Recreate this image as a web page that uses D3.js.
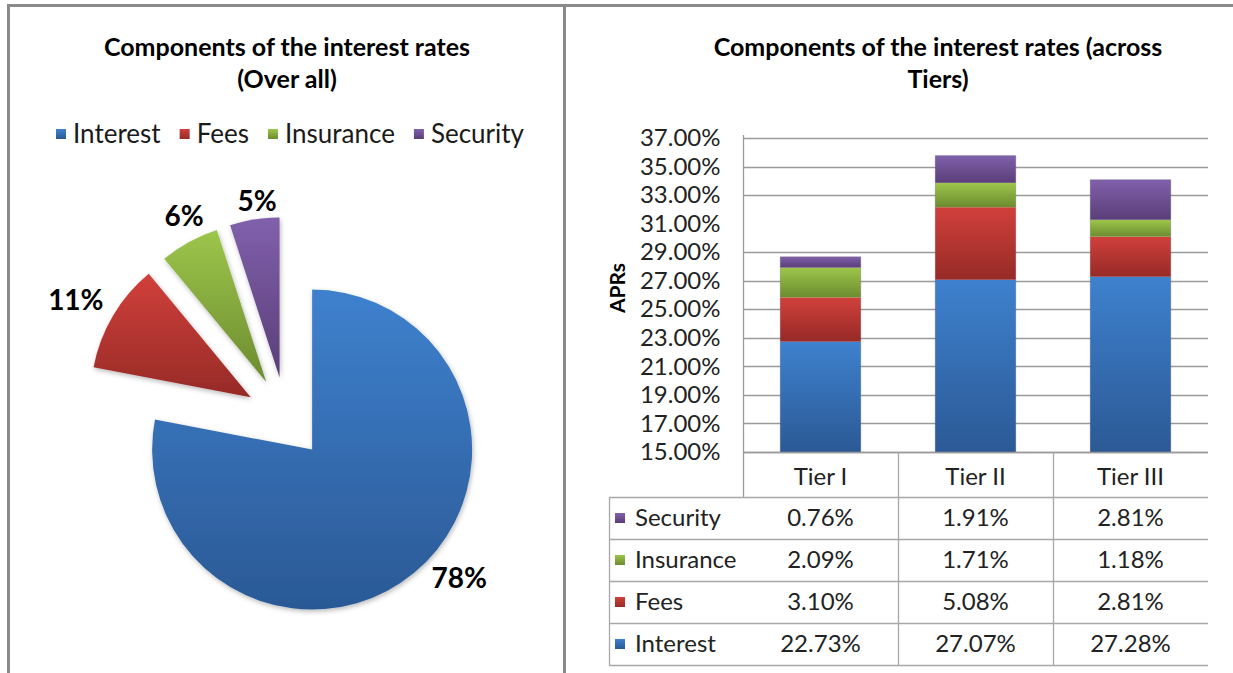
<!DOCTYPE html>
<html>
<head>
<meta charset="utf-8">
<script src="https://cdn.jsdelivr.net/npm/d3@7"></script>
<style>
  body { margin: 0; background: #fff; }
  svg { display: block; }
  text { font-family: Lato, "Open Sans", "DejaVu Sans", sans-serif; }
</style>
</head>
<body>
<svg id="chart" width="1233" height="673"></svg>
<script>
// ---- data ----
const components = ["Interest", "Fees", "Insurance", "Security"];
const overallShare = [78, 11, 6, 5];
const tiers = ["Tier I", "Tier II", "Tier III"];
const interest = [22.73, 27.07, 27.28];
const fees = [3.10, 5.08, 2.81];
const insurance = [2.09, 1.71, 1.18];
const security = [0.76, 1.91, 2.81];
const yTickValues = [15, 17, 19, 21, 23, 25, 27, 29, 31, 33, 35, 37];

// ---- styling ----
const gradientStops = {
  Interest:  ["#3e81ce", "#2b5995"],
  Fees:      ["#d1403b", "#962a27"],
  Insurance: ["#9dc64b", "#6c8b2f"],
  Security:  ["#8060ab", "#5a3e78"]
};
const textColor = "#1a1a1a";
const titleSize = 25, legendSize = 26, tickSize = 24, tableSize = 24, pieLabelSize = 28;

const svg = d3.select("#chart");
const defs = svg.append("defs");

components.forEach((c, i) => {
  const g = defs.append("linearGradient")
    .attr("id", "grad-" + i)
    .attr("x1", 0).attr("y1", 0).attr("x2", 0).attr("y2", 1);
  g.append("stop").attr("offset", "0%").attr("stop-color", gradientStops[c][0]);
  g.append("stop").attr("offset", "100%").attr("stop-color", gradientStops[c][1]);
});

const shadow = defs.append("filter").attr("id", "soft-shadow")
  .attr("x", "-20%").attr("y", "-20%").attr("width", "140%").attr("height", "140%");
shadow.append("feDropShadow")
  .attr("dx", 1).attr("dy", 2).attr("stdDeviation", 2.5)
  .attr("flood-color", "#000").attr("flood-opacity", 0.28);

// ---- panel frames ----
const frame = svg.append("g").attr("stroke", "#8a8a8a").attr("stroke-width", 3);
frame.append("line").attr("x1", 7).attr("x2", 1233).attr("y1", 5.5).attr("y2", 5.5);
frame.append("line").attr("x1", 8.5).attr("x2", 8.5).attr("y1", 4).attr("y2", 673);
frame.append("line").attr("x1", 564.5).attr("x2", 564.5).attr("y1", 4).attr("y2", 673);

// ================= Left panel: pie =================
const left = svg.append("g");
const leftCenterX = 287;

left.append("text")
  .attr("x", leftCenterX).attr("y", 56)
  .attr("text-anchor", "middle")
  .attr("font-size", titleSize).attr("font-weight", 700).attr("fill", "#000")
  .text("Components of the interest rates");
left.append("text")
  .attr("x", leftCenterX).attr("y", 88)
  .attr("text-anchor", "middle")
  .attr("font-size", titleSize).attr("font-weight", 700).attr("fill", "#000")
  .text("(Over all)");

// legend row
const legend = left.append("g").attr("transform", "translate(0,134)");
const legendItems = legend.selectAll("g.item").data(components).join("g").attr("class", "item");
legendItems.append("rect")
  .attr("width", 10).attr("height", 10).attr("y", -5)
  .attr("fill", (d, i) => `url(#grad-${i})`);
legendItems.append("text")
  .attr("x", 17).attr("y", 0).attr("dy", "0.35em")
  .attr("font-size", legendSize).attr("fill", textColor)
  .text(d => d);
{
  let x = 0;
  const gap = 19;
  const offsets = [];
  legendItems.each(function () {
    offsets.push(x);
    const w = d3.select(this).select("text").node().getComputedTextLength();
    x += 17 + w + gap;
  });
  const total = x - gap;
  const start = 290 - total / 2;
  legendItems.attr("transform", (d, i) => `translate(${start + offsets[i]},0)`);
}

// pie geometry
const pieCx = 286, pieCy = 418, pieR = 160, explode = 41;
const pieLabelPlacement = [
  { angle: 132.8, dist: 236 },
  { angle: 299.3, dist: 241 },
  { angle: 333.2, dist: 226 },
  { angle: 352.4, dist: 219 }
];

const pie = d3.pie().sort(null).value(d => d.value).startAngle(0).endAngle(2 * Math.PI);
const arcs = pie(components.map((c, i) => ({ name: c, value: overallShare[i], i })));
const arcGen = d3.arc().innerRadius(0).outerRadius(pieR);

const pieG = left.append("g").attr("transform", `translate(${pieCx},${pieCy})`);
pieG.selectAll("path.slice").data(arcs).join("path")
  .attr("class", "slice")
  .attr("d", arcGen)
  .attr("fill", d => `url(#grad-${d.data.i})`)
  .attr("filter", "url(#soft-shadow)")
  .attr("transform", d => {
    const mid = (d.startAngle + d.endAngle) / 2;
    return `translate(${explode * Math.sin(mid)},${-explode * Math.cos(mid)})`;
  });

pieG.selectAll("text.plabel").data(arcs).join("text")
  .attr("class", "plabel")
  .attr("x", d => {
    const p = pieLabelPlacement[d.data.i];
    return p.dist * Math.sin(p.angle * Math.PI / 180);
  })
  .attr("y", d => {
    const p = pieLabelPlacement[d.data.i];
    return -p.dist * Math.cos(p.angle * Math.PI / 180);
  })
  .attr("dy", "0.35em")
  .attr("text-anchor", "middle")
  .attr("font-size", pieLabelSize).attr("font-weight", 700).attr("fill", "#000")
  .text(d => d.data.value + "%");

// ================= Right panel: stacked bars + data table =================
const right = svg.append("g");
const rightCenterX = 938;

right.append("text")
  .attr("x", rightCenterX).attr("y", 56)
  .attr("text-anchor", "middle")
  .attr("font-size", titleSize).attr("font-weight", 700).attr("fill", "#000")
  .text("Components of the interest rates (across");
right.append("text")
  .attr("x", rightCenterX).attr("y", 88)
  .attr("text-anchor", "middle")
  .attr("font-size", titleSize).attr("font-weight", 700).attr("fill", "#000")
  .text("Tiers)");

const plotLeft = 743, plotRight = 1208, plotTop = 138, plotBottom = 452;
const axisMin = 15;

const y = d3.scaleLinear().domain([axisMin, 37]).range([plotBottom, plotTop]);
const x = d3.scaleBand().domain(tiers).range([plotLeft, plotRight]).paddingInner(0).paddingOuter(0);
const barWidth = x.bandwidth() * 0.52;

// gridlines (the 31% line does not render in this chart)
const gridValues = yTickValues.filter(v => v !== 31);
right.append("g").selectAll("line").data(gridValues).join("line")
  .attr("x1", plotLeft).attr("x2", plotRight)
  .attr("y1", d => Math.round(y(d)) + 0.5).attr("y2", d => Math.round(y(d)) + 0.5)
  .attr("stroke", "#9a9a9a").attr("stroke-width", 1.3);

// y axis
const yAxis = d3.axisLeft(y).tickValues(yTickValues)
  .tickFormat(d => d3.format(".2f")(d) + "%").tickSize(0).tickPadding(23);
const yAxisG = right.append("g").attr("transform", `translate(${plotLeft + 0.5},0)`).call(yAxis);
yAxisG.select(".domain").attr("stroke", "#9a9a9a").attr("stroke-width", 1.3)
  .attr("d", `M0,${plotTop - 3}V${plotBottom + 45}`);
yAxisG.selectAll("text").attr("font-size", tickSize).attr("fill", "#222")
  .style("font-family", "Lato, 'Open Sans', sans-serif");

right.append("text")
  .attr("transform", `translate(625,${(plotTop + plotBottom) / 2 - 7}) rotate(-90)`)
  .attr("text-anchor", "middle")
  .attr("font-size", 21).attr("font-weight", 700).attr("fill", "#000")
  .text("APRs");

// stacked bars (values stack from zero; the axis starts at 15%)
const series = { Interest: interest, Fees: fees, Insurance: insurance, Security: security };
const rows = tiers.map((t, j) => {
  const r = { tier: t };
  components.forEach(c => { r[c] = series[c][j]; });
  return r;
});
const stacked = d3.stack().keys(components)(rows);

const barsG = right.append("g");
stacked.forEach((layer, li) => {
  barsG.selectAll(null).data(layer).join("rect")
    .attr("x", d => x(d.data.tier) + (x.bandwidth() - barWidth) / 2)
    .attr("width", barWidth)
    .attr("y", d => y(d[1]))
    .attr("height", d => y(Math.max(d[0], axisMin)) - y(d[1]))
    .attr("fill", `url(#grad-${li})`);
});
// faint outline around each bar
barsG.selectAll(null).data(stacked[stacked.length - 1]).join("rect")
  .attr("x", d => x(d.data.tier) + (x.bandwidth() - barWidth) / 2)
  .attr("width", barWidth)
  .attr("y", d => y(d[1]))
  .attr("height", d => plotBottom - y(d[1]))
  .attr("fill", "none").attr("stroke", "rgba(90,90,120,0.25)").attr("stroke-width", 1);

// data table
const headerBottom = 497, rowH = 42, tableLeft = 609;
const tableRows = components.slice().reverse(); // Security on top
const table = right.append("g");
const lineColor = "#a8a8a8";

table.append("line").attr("x1", plotLeft).attr("x2", plotRight)
  .attr("y1", plotBottom + 0.5).attr("y2", plotBottom + 0.5)
  .attr("stroke", "#9a9a9a").attr("stroke-width", 1.3);
d3.range(tableRows.length + 1).forEach(k => {
  const yy = headerBottom + k * rowH + 0.5;
  table.append("line").attr("x1", tableLeft).attr("x2", plotRight)
    .attr("y1", yy).attr("y2", yy).attr("stroke", lineColor).attr("stroke-width", 1.3);
});
table.append("line").attr("x1", tableLeft + 0.5).attr("x2", tableLeft + 0.5)
  .attr("y1", headerBottom).attr("y2", headerBottom + tableRows.length * rowH)
  .attr("stroke", lineColor).attr("stroke-width", 1.3);
tiers.forEach((t, j) => {
  if (j === 0) return;
  table.append("line").attr("x1", x(t) + 0.5).attr("x2", x(t) + 0.5)
    .attr("y1", plotBottom).attr("y2", headerBottom + tableRows.length * rowH)
    .attr("stroke", lineColor).attr("stroke-width", 1.3);
});

// header
table.selectAll("text.hdr").data(tiers).join("text")
  .attr("class", "hdr")
  .attr("x", d => x(d) + x.bandwidth() / 2)
  .attr("y", (plotBottom + headerBottom) / 2 + 2).attr("dy", "0.35em")
  .attr("text-anchor", "middle").attr("font-size", tableSize).attr("fill", "#222")
  .text(d => d);

// rows
tableRows.forEach((c, k) => {
  const cy = headerBottom + k * rowH + rowH / 2;
  const ci = components.indexOf(c);
  table.append("rect").attr("x", tableLeft + 6).attr("y", cy - 5)
    .attr("width", 10).attr("height", 10).attr("fill", `url(#grad-${ci})`);
  table.append("text").attr("x", tableLeft + 26).attr("y", cy).attr("dy", "0.35em")
    .attr("font-size", tableSize).attr("fill", "#222").text(c);
  tiers.forEach((t, j) => {
    table.append("text")
      .attr("x", x(t) + x.bandwidth() / 2).attr("y", cy).attr("dy", "0.35em")
      .attr("text-anchor", "middle").attr("font-size", tableSize).attr("fill", "#222")
      .text(d3.format(".2f")(series[c][j]) + "%");
  });
});
</script>
</body>
</html>
